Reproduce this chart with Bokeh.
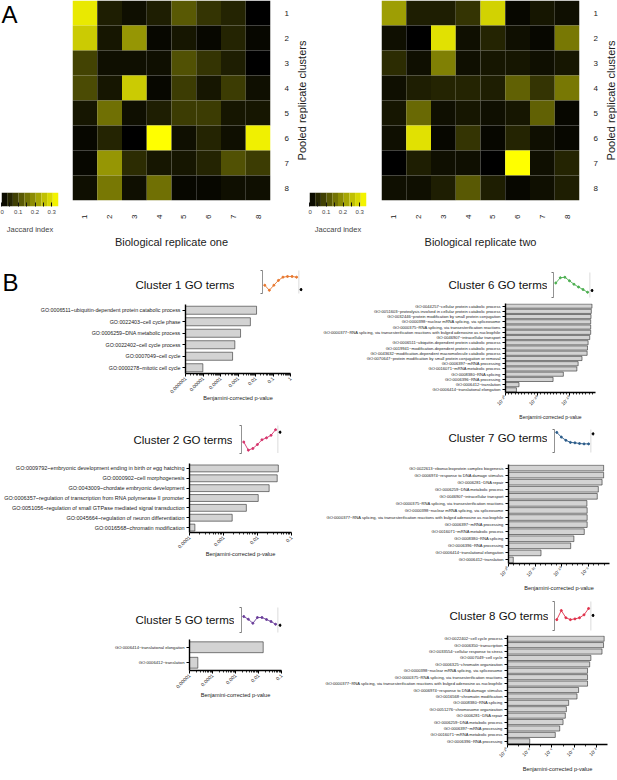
import math
import numpy as np
from bokeh.plotting import figure
from bokeh.layouts import row, column
from bokeh.models import (FactorRange, Range1d, FixedTicker, Span, LinearColorMapper,
                          ColumnDataSource, CustomJSTickFormatter, Spacer)
from bokeh.transform import transform
from bokeh.embed import file_html
from bokeh.resources import INLINE

FONT = "Liberation Sans"

# ---------------- data: panel A ----------------
cluster_ids = ["1", "2", "3", "4", "5", "6", "7", "8"]
jaccard_rep_one = [
    [0.31, 0.04, 0.02, 0.04, 0.12, 0.07, 0.05, 0.00],
    [0.27, 0.03, 0.20, 0.01, 0.03, 0.01, 0.05, 0.01],
    [0.09, 0.02, 0.02, 0.02, 0.11, 0.07, 0.04, 0.00],
    [0.10, 0.03, 0.27, 0.01, 0.08, 0.03, 0.08, 0.02],
    [0.03, 0.15, 0.02, 0.04, 0.08, 0.08, 0.03, 0.03],
    [0.01, 0.05, 0.00, 0.34, 0.02, 0.05, 0.02, 0.32],
    [0.01, 0.20, 0.06, 0.03, 0.03, 0.05, 0.11, 0.08],
    [0.02, 0.16, 0.02, 0.15, 0.01, 0.01, 0.02, 0.02],
]
jaccard_rep_two = [
    [0.21, 0.04, 0.04, 0.07, 0.28, 0.01, 0.03, 0.02],
    [0.02, 0.00, 0.30, 0.02, 0.05, 0.02, 0.01, 0.16],
    [0.06, 0.02, 0.17, 0.02, 0.03, 0.03, 0.02, 0.03],
    [0.02, 0.04, 0.05, 0.05, 0.04, 0.13, 0.07, 0.16],
    [0.03, 0.14, 0.02, 0.03, 0.02, 0.03, 0.13, 0.01],
    [0.02, 0.30, 0.01, 0.07, 0.01, 0.05, 0.02, 0.01],
    [0.00, 0.04, 0.02, 0.02, 0.00, 0.34, 0.02, 0.05],
    [0.02, 0.02, 0.04, 0.12, 0.04, 0.01, 0.02, 0.04],
]
jaccard_max = 0.34
jaccard_ticks = [0, 0.1, 0.2, 0.3]
jaccard_minor = [0.05, 0.15, 0.25]

# ---------------- data: panel B ----------------
c1_terms = ["GO:0006511~ubiquitin-dependent protein catabolic process",
            "GO:0022403~cell cycle phase",
            "GO:0006259~DNA metabolic process",
            "GO:0022402~cell cycle process",
            "GO:0007049~cell cycle",
            "GO:0000278~mitotic cell cycle"]
c1_pvals = [0.0115, 0.0051, 0.0014, 0.00066, 0.00049, 0.0000098]
c1_ticks = [1e-6, 1e-5, 1e-4, 1e-3, 1e-2, 1e-1, 1]
c1_tick_labels = ["0.000001", "0.00001", "0.0001", "0.001", "0.01", "0.1", "1"]
c1_profile = [0.36, 0.14, 0.36, 0.57, 0.71, 0.74, 0.74, 0.71]
c1_ref_point = 0.17

c2_terms = ["GO:0009792~embryonic development ending in birth or egg hatching",
            "GO:0000902~cell morphogenesis",
            "GO:0043009~chordate embryonic development",
            "GO:0006357~regulation of transcription from RNA polymerase II promoter",
            "GO:0051056~regulation of small GTPase mediated signal transduction",
            "GO:0045664~regulation of neuron differentiation",
            "GO:0016568~chromatin modification"]
c2_pvals = [0.041, 0.038, 0.022, 0.0105, 0.0047, 0.0018, 0.000144]
c2_ticks = [1e-4, 1e-3, 1e-2, 1e-1]
c2_tick_labels = ["0.0001", "0.001", "0.01", "0.1"]
c2_profile = [0.41, 0.12, 0.18, 0.32, 0.49, 0.56, 0.65, 0.85]
c2_ref_point = 0.76

c5_terms = ["GO:0006414~translational elongation",
            "GO:0006412~translation"]
c5_pvals = [0.016, 0.000023]
c5_ticks = [1e-5, 1e-4, 1e-3, 1e-2, 1e-1]
c5_tick_labels = ["0.00001", "0.0001", "0.001", "0.01", "0.1"]
c5_profile = [0.64, 0.53, 0.37, 0.60, 0.60, 0.52, 0.44, 0.33]
c5_ref_point = 0.29

c6_terms = ["GO:0044257~cellular protein catabolic process",
            "GO:0051603~proteolysis involved in cellular protein catabolic process",
            "GO:0032446~protein modification by small protein conjugation",
            "GO:0000398~nuclear mRNA splicing, via spliceosome",
            "GO:0000375~RNA splicing, via transesterification reactions",
            "GO:0000377~RNA splicing, via transesterification reactions with bulged adenosine as nucleophile",
            "GO:0046907~intracellular transport",
            "GO:0006511~ubiquitin-dependent protein catabolic process",
            "GO:0019941~modification-dependent protein catabolic process",
            "GO:0043632~modification-dependent macromolecule catabolic process",
            "GO:0070647~protein modification by small protein conjugation or removal",
            "GO:0006397~mRNA processing",
            "GO:0016071~mRNA metabolic process",
            "GO:0008380~RNA splicing",
            "GO:0006396~RNA processing",
            "GO:0006412~translation",
            "GO:0006414~translational elongation"]
c6_pvals = [7.9e-4, 5.0e-4, 4.0e-4, 3.2e-4, 3.2e-4, 3.2e-4, 1.6e-4, 5.0e-5, 3.2e-5,
            2.5e-5, 6.3e-7, 4.0e-8, 1.6e-8, 1.0e-12, 6.3e-16, 1.6e-26, 2.5e-27]
c6_ticks = [1e-30, 1e-20, 1e-10]
c6_tick_labels = ["10\u207b\u00b3\u2070", "10\u207b\u00b2\u2070", "10\u207b\u00b9\u2070"]
c6_profile = [0.58, 0.79, 0.81, 0.67, 0.53, 0.42, 0.32, 0.21]
c6_ref_point = 0.28

c7_terms = ["GO:0022613~ribonucleoprotein complex biogenesis",
            "GO:0006974~response to DNA damage stimulus",
            "GO:0006281~DNA repair",
            "GO:0006259~DNA metabolic process",
            "GO:0046907~intracellular transport",
            "GO:0000375~RNA splicing, via transesterification reactions",
            "GO:0000398~nuclear mRNA splicing, via spliceosome",
            "GO:0000377~RNA splicing, via transesterification reactions with bulged adenosine as nucleophile",
            "GO:0006397~mRNA processing",
            "GO:0016071~mRNA metabolic process",
            "GO:0008380~RNA splicing",
            "GO:0006396~RNA processing",
            "GO:0006414~translational elongation",
            "GO:0006412~translation"]
c7_pvals = [7.9e-3, 7.9e-3, 4.0e-3, 7.9e-4, 5.0e-4, 5.6e-6, 6.3e-6, 6.3e-6, 6.3e-6,
            1.8e-6, 2.0e-8, 5.0e-9, 1.3e-14, 7.9e-20]
c7_ticks = [1e-20, 1e-15, 1e-10, 1e-5]
c7_tick_labels = ["10\u207b\u00b2\u2070", "10\u207b\u00b9\u2075", "10\u207b\u00b9\u2070", "10\u207b\u2075"]
c7_profile = [0.875, 0.67, 0.53, 0.44, 0.42, 0.39, 0.375, 0.375]
c7_ref_point = 0.81

c8_terms = ["GO:0022402~cell cycle process",
            "GO:0006350~transcription",
            "GO:0033554~cellular response to stress",
            "GO:0007049~cell cycle",
            "GO:0006325~chromatin organization",
            "GO:0000398~nuclear mRNA splicing, via spliceosome",
            "GO:0000375~RNA splicing, via transesterification reactions",
            "GO:0000377~RNA splicing, via transesterification reactions with bulged adenosine as nucleophile",
            "GO:0006974~response to DNA damage stimulus",
            "GO:0016568~chromatin modification",
            "GO:0008380~RNA splicing",
            "GO:0051276~chromosome organization",
            "GO:0006281~DNA repair",
            "GO:0006259~DNA metabolic process",
            "GO:0006397~mRNA processing",
            "GO:0016071~mRNA metabolic process",
            "GO:0006396~RNA processing"]
c8_pvals = [5.0e-2, 4.4e-2, 3.2e-2, 3.2e-3, 2.5e-3, 1.6e-3, 1.6e-3, 1.6e-3, 2.5e-4,
            1.8e-4, 3.2e-5, 2.0e-5, 1.6e-5, 1.0e-5, 5.0e-6, 2.0e-6, 1.0e-8]
c8_ticks = [1e-10, 1e-8, 1e-6, 1e-4, 1e-2]
c8_tick_labels = ["10\u207b\u00b9\u2070", "10\u207b\u2078", "10\u207b\u2076", "10\u207b\u2074", "10\u207b\u00b2"]
c8_profile = [0.375, 0.69, 0.44, 0.375, 0.40, 0.44, 0.54, 0.76]
c8_ref_point = 0.52

timepoints = [1, 2, 3, 4, 5, 6, 7, 8]
ref_timepoint = 9
profile_divider = 8.5

# ---------------- styling helpers ----------------
yellow_palette = ["#%02x%02x%02x" % (int(255 * t), int(255 * t), int(20 * t * (1 - t)))
                  for t in np.linspace(0, 1, 256)]
mapper = LinearColorMapper(palette=yellow_palette, low=0, high=jaccard_max)


def solo(fig):
    # wrap a figure on its own so that sibling frames are not aligned
    return column(fig)


def base_fig(title=None, **kw):
    p = figure(output_backend="svg", toolbar_location=None, title=title, **kw)
    p.outline_line_color = None
    p.grid.visible = False
    p.background_fill_color = "white"
    p.border_fill_color = "white"
    return p


def letter_fig(letter, width, height, top, standoff=0, left=2):
    p = base_fig(title=letter, width=width, height=height, min_border_top=top,
                 min_border_bottom=0, min_border_left=left, min_border_right=0,
                 x_axis_location=None, y_axis_location=None)
    p.title.align = "left"
    p.title.text_font = FONT
    p.title.text_font_size = "24px"
    p.title.text_font_style = "normal"
    p.title.text_color = "black"
    p.title.standoff = standoff
    return p


def heatmap(values, xlabel):
    xs, ys, vs = [], [], []
    for i, r in enumerate(cluster_ids):
        for j, c in enumerate(cluster_ids):
            xs.append(c)
            ys.append(r)
            vs.append(values[i][j])
    p = base_fig(x_range=FactorRange(*cluster_ids), y_range=FactorRange(*cluster_ids[::-1]),
                 width=219, height=250, min_border_left=0, min_border_right=13,
                 min_border_top=0, min_border_bottom=44, y_axis_location="right")
    p.rect(x="x", y="y", width=1, height=1, source=ColumnDataSource(dict(x=xs, y=ys, v=vs)),
           fill_color=transform("v", mapper), line_color=None)
    for ax in p.axis:
        ax.axis_line_color = None
        ax.major_tick_line_color = None
        ax.minor_tick_line_color = None
        ax.major_label_text_font = FONT
        ax.major_label_text_font_size = "8px"
        ax.major_label_text_color = "#222"
        ax.axis_label_text_font = FONT
        ax.axis_label_text_font_size = "11px"
        ax.axis_label_text_font_style = "normal"
        ax.axis_label_text_color = "#222"
    p.xaxis.major_label_orientation = math.pi / 2
    p.xaxis.axis_label = xlabel
    p.xaxis.major_label_standoff = 8
    p.xaxis.axis_label_standoff = 14
    p.yaxis.major_label_standoff = 8
    return p


def side_label_fig(text):
    # thin companion figure that carries the heatmap's right-hand axis title
    p = base_fig(y_range=FactorRange(*cluster_ids[::-1]), x_range=Range1d(0, 1), width=17,
                 height=250, min_border_left=16, min_border_right=0, min_border_top=0,
                 min_border_bottom=44, x_axis_location=None, y_axis_location="left")
    ax = p.yaxis[0]
    ax.ticker = FixedTicker(ticks=[])
    ax.axis_line_color = None
    ax.major_tick_line_color = None
    ax.minor_tick_line_color = None
    ax.axis_label = text
    ax.axis_label_standoff = 0
    ax.axis_label_text_font = FONT
    ax.axis_label_text_font_size = "11px"
    ax.axis_label_text_font_style = "normal"
    ax.axis_label_text_color = "#222"
    return p


def colorbar_fig(width):
    edges = np.linspace(0, jaccard_max, 11)
    src = ColumnDataSource(dict(l=edges[:-1], r=edges[1:], m=(edges[:-1] + edges[1:]) / 2))
    p = base_fig(x_range=Range1d(0, jaccard_max), y_range=Range1d(0, 1), width=width, height=44,
                 min_border_left=1, min_border_right=width - 58, min_border_top=0,
                 min_border_bottom=30, y_axis_location=None)
    p.quad(left="l", right="r", bottom=0, top=1, source=src,
           fill_color=transform("m", mapper), line_color=None)
    ax = p.xaxis[0]
    ax.ticker = FixedTicker(ticks=jaccard_ticks, minor_ticks=jaccard_minor)
    ax.formatter = CustomJSTickFormatter(code="return tick == 0 ? '0' : tick.toFixed(1);")
    ax.axis_line_color = None
    ax.major_tick_in = 4
    ax.major_tick_out = 0
    ax.minor_tick_in = 4
    ax.minor_tick_out = 0
    ax.major_tick_line_color = "#111"
    ax.minor_tick_line_color = "#111"
    ax.major_label_text_font = FONT
    ax.major_label_text_font_size = "6px"
    ax.major_label_standoff = 3
    ax.axis_label = "Jaccard index"
    ax.axis_label_text_font = FONT
    ax.axis_label_text_font_size = "7.5px"
    ax.axis_label_text_font_style = "normal"
    ax.axis_label_standoff = 8
    return p


def title_fig(text, width, height, top):
    p = base_fig(title=text, width=width, height=height, min_border_top=top,
                 min_border_bottom=0, min_border_left=0, min_border_right=0,
                 x_axis_location=None, y_axis_location=None)
    p.title.align = "right"
    p.title.text_font = FONT
    p.title.text_font_size = "11.5px"
    p.title.text_font_style = "normal"
    p.title.text_color = "#111"
    p.title.standoff = 0
    return p


def inset_fig(profile, ref_point, color, left, right, top, frame_h, bottom):
    p = base_fig(x_range=Range1d(0.5, 9.3), y_range=Range1d(0, 1), width=left + 40 + right,
                 height=top + frame_h + bottom, min_border_left=left, min_border_right=right,
                 min_border_top=top, min_border_bottom=bottom, x_axis_location=None)
    p.add_layout(Span(location=profile_divider, dimension="height", line_dash="1 1",
                      line_color="#999999", line_width=0.7))
    p.line(timepoints, profile, line_color=color, line_width=0.9)
    p.scatter(timepoints, profile, size=2, fill_color=color, line_color=color)
    p.scatter([ref_timepoint], [ref_point], size=2.2, fill_color="black", line_color="black")
    ax = p.yaxis[0]
    ax.ticker = FixedTicker(ticks=[0, 1], minor_ticks=[])
    ax.major_label_text_font_size = "1px"
    ax.major_label_text_color = None
    ax.major_label_standoff = 0
    ax.major_tick_out = 2
    ax.major_tick_in = 0
    ax.axis_line_color = "#777777"
    ax.major_tick_line_color = "#777777"
    ax.axis_line_width = 0.8
    return p


def header(title, title_w, height, title_top, profile, ref_point, color,
           inset_left, inset_right, inset_top, inset_h, lead=None):
    parts = []
    if lead is not None:
        parts.append(solo(lead))
    parts.append(solo(title_fig(title, title_w, height, title_top)))
    parts.append(solo(inset_fig(profile, ref_point, color, inset_left, inset_right, inset_top,
                                inset_h, height - inset_top - inset_h)))
    return row(*parts)


def log_minors(lo, hi, per_decade):
    out = []
    e = int(round(math.log10(lo)))
    while 10 ** e < hi:
        for k in per_decade:
            v = k * 10 ** e
            if lo < v < hi:
                out.append(v)
        e += 1
    return out


def bar_fig(terms, pvals, ticks, tick_labels, lo, hi, minors, left, frame_w, col_w, top,
            frame_h, bottom, label_size, axis_size="5.6px", bar_h=0.7, label_standoff=2):
    p = base_fig(y_range=FactorRange(*terms[::-1]), x_range=Range1d(lo, hi), x_axis_type="log",
                 width=col_w, height=top + frame_h + bottom, min_border_left=left,
                 min_border_right=col_w - left - frame_w, min_border_top=top,
                 min_border_bottom=bottom)
    p.hbar(y=terms, left=lo, right=pvals, height=bar_h, fill_color="#d3d3d3",
           line_color="#2a2a2a", line_width=0.6)
    ya = p.yaxis[0]
    ya.major_label_text_font = FONT
    ya.major_label_text_font_size = label_size
    ya.major_label_text_color = "#222"
    ya.major_label_standoff = 2
    ya.axis_line_width = 1.4
    ya.major_tick_out = 3
    ya.major_tick_in = 0
    ya.major_tick_line_width = 1
    xa = p.xaxis[0]
    xa.ticker = FixedTicker(ticks=ticks, minor_ticks=minors)
    xa.formatter = CustomJSTickFormatter(args=dict(vals=ticks, names=tick_labels), code="""
        for (let i = 0; i < vals.length; i++) {
            if (Math.abs(Math.log10(tick) - Math.log10(vals[i])) < 1e-6) return names[i];
        }
        return "";""")
    xa.major_label_orientation = math.pi / 4
    xa.major_label_text_font = FONT
    xa.major_label_text_font_size = "5px"
    xa.major_label_text_color = "#222"
    xa.major_label_standoff = 1
    xa.axis_line_width = 1.4
    xa.major_tick_out = 3
    xa.major_tick_in = 0
    xa.major_tick_line_width = 1
    xa.minor_tick_out = 2
    xa.minor_tick_in = 0
    xa.minor_tick_line_width = 0.8
    xa.axis_label = "Benjamini-corrected p-value"
    xa.axis_label_text_font = FONT
    xa.axis_label_text_font_size = axis_size
    xa.axis_label_text_font_style = "normal"
    xa.axis_label_text_color = "#222"
    xa.axis_label_standoff = label_standoff
    return solo(p)


# ---------------- panel A ----------------
left_A = row(column(letter_fig("A", 72, 40, 0, -4, 0), Spacer(width=72, height=152),
                    colorbar_fig(72)),
             heatmap(jaccard_rep_one, "Biological replicate one"),
             side_label_fig("Pooled replicate clusters"))
right_A = row(column(Spacer(width=73, height=192), colorbar_fig(73)),
              heatmap(jaccard_rep_two, "Biological replicate two"),
              side_label_fig("Pooled replicate clusters"))
top_row = row(left_A, right_A)

# ---------------- panel B ----------------
fine = [2, 3, 4, 5, 6, 7, 8, 9]
decade = [1]

hdr1 = header("Cluster 1 GO terms", 194, 53, 40, c1_profile, c1_ref_point, "#e8772e",
              28, 6, 20, 23, lead=letter_fig("B", 40, 53, 45, 0))
bar1 = bar_fig(c1_terms, c1_pvals, c1_ticks, c1_tick_labels, 1e-6, 1,
               log_minors(1e-6, 1, fine), 185, 105, 308, 1, 69, 32, "5.3px",
               label_standoff=-3)
hdr2 = header("Cluster 2 GO terms", 192, 55, 40, c2_profile, c2_ref_point, "#d6336c",
              9, 27, 20, 28, lead=Spacer(width=40, height=55))
bar2 = bar_fig(c2_terms, c2_pvals, c2_ticks, c2_tick_labels, 1e-4, 0.1,
               log_minors(1e-4, 0.1, fine), 189, 102, 308, 3, 69, 30, "5.5px",
               label_standoff=-2)
hdr5 = header("Cluster 5 GO terms", 194, 74, 63, c5_profile, c5_ref_point, "#6a3d9a",
              7, 27, 45, 25, lead=Spacer(width=40, height=74))
bar5 = bar_fig(c5_terms, c5_pvals, c5_ticks, c5_tick_labels, 1e-5, 0.1,
               log_minors(1e-5, 0.1, fine), 189, 92, 308, 3, 32, 30, "4.2px",
               label_standoff=-1)
left_B = column(hdr1, bar1, hdr2, bar2, hdr5, bar5)

hdr6 = header("Cluster 6 GO terms", 239, 50, 40, c6_profile, c6_ref_point, "#4caf50",
              6, 24, 22, 25)
bar6 = bar_fig(c6_terms, c6_pvals, c6_ticks, c6_tick_labels, 1e-30, 1e-2,
               [v for v in log_minors(1e-30, 1e-2, decade) if v not in c6_ticks],
               197, 90, 309, 3, 94, 25, "4.1px", "5px", 0.8)
hdr7 = header("Cluster 7 GO terms", 239, 39, 21, c7_profile, c7_ref_point, "#2b5c8a",
              7, 23, 7, 23)
bar7 = bar_fig(c7_terms, c7_pvals, c7_ticks, c7_tick_labels, 1e-20, 1e-1,
               [v for v in log_minors(1e-20, 1e-1, decade) if v not in c7_ticks],
               200, 101, 309, 3, 99, 30, "4.1px", "5.6px", 0.8)
hdr8 = header("Cluster 8 GO terms", 240, 39, 28, c8_profile, c8_ref_point, "#e0314b",
              6, 23, 8, 29)
bar8 = bar_fig(c8_terms, c8_pvals, c8_ticks, c8_tick_labels, 1e-10, 1e-1,
               [v for v in log_minors(1e-10, 1e-1, decade) if v not in c8_ticks],
               199, 100, 309, 3, 112, 27, "4.1px", "5.6px", 0.8)
right_B = column(hdr6, bar6, hdr7, bar7, hdr8, bar8)

p = column(top_row, row(left_B, right_B))

open("out.html", "w").write(file_html(p, INLINE))
